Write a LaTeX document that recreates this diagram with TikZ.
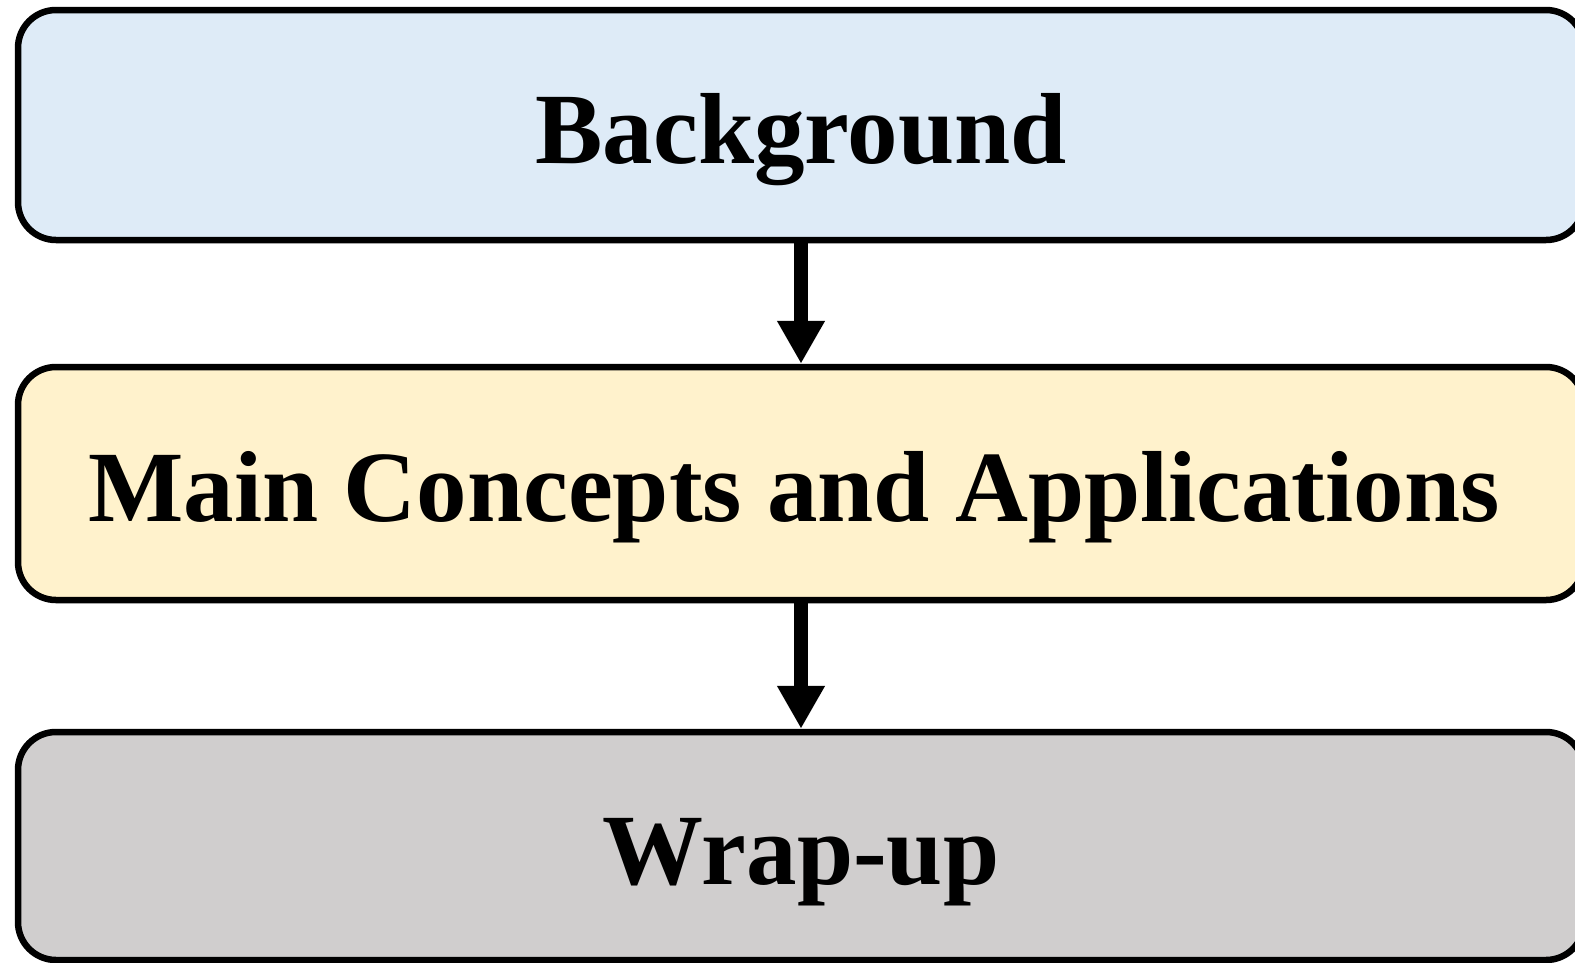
\documentclass[tikz,border=0pt]{standalone}
\usepackage{fontspec}
\setmainfont{Liberation Serif}
\usetikzlibrary{arrows.meta}
\definecolor{boxblue}{HTML}{DEEBF7}
\definecolor{boxgold}{HTML}{FFF2CC}
\definecolor{boxgray}{HTML}{D0CECE}
\tikzset{
  stagebox/.style={draw=black, line width=6.5pt, rounded corners=38pt,
    minimum width=1566pt, minimum height=230pt, inner sep=0pt,
    text height=76pt, text depth=0pt,
    font=\fontsize{101}{121}\selectfont\bfseries},
  flowarrow/.style={draw=black, line width=14pt,
    -{Triangle[width=45pt, length=43pt]}}
}
\begin{document}
\begin{tikzpicture}[x=1pt, y=-1pt]
  \clip (0,0) rectangle (1575,962);
  \node[stagebox, fill=boxblue] (bg) at (801,125) {Background};
  \node[stagebox, fill=boxgold, minimum height=233pt] (main) at (801,483.5) {Main Concepts and Applications\hspace*{14pt}};
  \node[stagebox, fill=boxgray, minimum height=228pt] (wrap) at (801,846) {Wrap-up};
  \draw[flowarrow] (bg.south) -- (main.north);
  \draw[flowarrow] (main.south) -- (wrap.north);
\end{tikzpicture}
\end{document}
